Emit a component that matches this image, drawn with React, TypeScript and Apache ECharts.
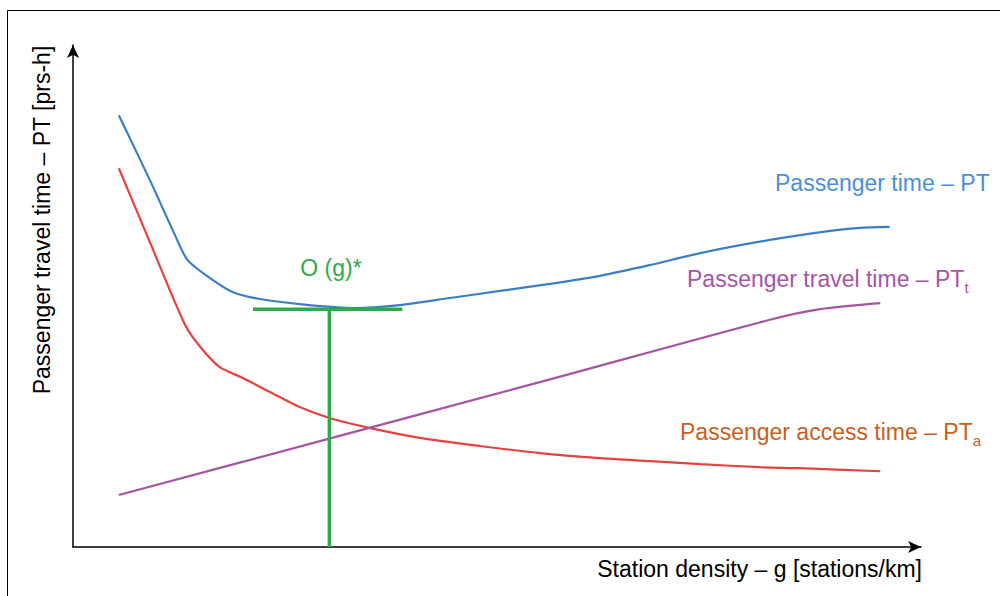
import React, { useEffect, useRef } from "react";
import * as echarts from "echarts";

// Data (x: station density, y: passenger time), arbitrary 0-100 units
const totalTime: [number, number][] = [
  [5.4, 85.5], [9.1, 72.5], [12.0, 61.8], [13.5, 56.8], [16.1, 53.3], [18.8, 50.5],
  [22.0, 49.1], [26.7, 48.1], [33.2, 47.3], [38.5, 47.9], [44.4, 49.3], [50.3, 50.7],
  [56.2, 52.1], [62.1, 53.7], [67.9, 55.8], [73.9, 58.2], [82.1, 60.8], [89.2, 62.6],
  [92.7, 63.2], [96.2, 63.4],
];
const accessTime: [number, number][] = [
  [5.4, 75.0], [9.1, 60.2], [13.2, 44.0], [15.0, 39.6], [17.3, 35.6], [19.7, 33.7],
  [23.2, 30.7], [26.7, 27.7], [30.3, 25.5], [34.9, 23.6], [40.9, 21.6],
  [47.9, 20.0], [55.0, 18.6], [62.1, 17.6], [68.0, 17.0], [73.9, 16.4], [80.9, 15.8],
  [85.6, 15.6], [95.1, 15.0],
];
const travelTime: [number, number][] = [
  [5.4, 10.3], [30.3, 21.5], [56.2, 33.2], [82.1, 45.0], [88.0, 47.1], [95.1, 48.3],
];
const optimumH: [number, number][] = [[21.2, 47.1], [38.8, 47.1]];
const optimumV: [number, number][] = [[30.2, 0], [30.2, 47.1]];

const FONT = "'Liberation Sans', Arial, sans-serif";

export default function App() {
  const ref = useRef<HTMLDivElement>(null);
  useEffect(() => {
    if (!ref.current) return;
    const chart = echarts.init(ref.current, null, { renderer: "svg" });
    const axisCommon = {
      type: "value" as const,
      min: 0,
      splitLine: { show: false },
      axisTick: { show: false },
      axisLabel: { show: false },
      axisLine: {
        show: true,
        onZero: false,
        symbol: ["none", "arrow"],
        symbolSize: [9, 13],
        lineStyle: { color: "#000", width: 1.5 },
      },
    };
    chart.setOption({
      animation: false,
      backgroundColor: "#fff",
      grid: { left: 73, top: 45, right: 79, bottom: 49, containLabel: false },
      xAxis: { ...axisCommon, max: 99.9 },
      yAxis: { ...axisCommon, max: 99.4 },
      series: [
        {
          type: "line", data: totalTime, smooth: 0.25, showSymbol: false,
          lineStyle: { color: "#3A7EC6", width: 2.2 },
        },
        {
          type: "line", data: accessTime, smooth: 0.25, showSymbol: false,
          lineStyle: { color: "#E8423F", width: 2.2 },
        },
        {
          type: "line", data: travelTime, smooth: 0.3, showSymbol: false,
          lineStyle: { color: "#A655A5", width: 2.2 },
        },
        {
          type: "line", data: optimumH, showSymbol: false,
          lineStyle: { color: "#2EAA4C", width: 3.5 },
        },
        {
          type: "line", data: optimumV, showSymbol: false,
          lineStyle: { color: "#2EAA4C", width: 3.5 },
        },
      ],
      graphic: [
        {
          type: "rect", shape: { x: 7.5, y: 10.5, width: 1010, height: 620 },
          style: { fill: "none", stroke: "#000", lineWidth: 1 }, silent: true,
        },
        {
          type: "text", x: 42, y: 220, rotation: Math.PI / 2,
          style: {
            text: "Passenger travel time – PT [prs-h]", fill: "#000",
            font: `23px ${FONT}`, align: "center", verticalAlign: "middle",
          },
        },
        {
          type: "text", x: 922, y: 569,
          style: {
            text: "Station density – g [stations/km]", fill: "#000",
            font: `23px ${FONT}`, align: "right", verticalAlign: "middle",
          },
        },
        {
          type: "text", x: 331, y: 268,
          style: {
            text: "O (g)*", fill: "#2EAA4C",
            font: `23px ${FONT}`, align: "center", verticalAlign: "middle",
          },
        },
        {
          type: "text", x: 775, y: 183,
          style: {
            text: "Passenger time – PT", fill: "#4A8FD8",
            font: `23px ${FONT}`, align: "left", verticalAlign: "middle",
          },
        },
        {
          type: "text", x: 687, y: 279,
          style: {
            text: "{m|Passenger travel time – PT}{s|t}",
            align: "left", verticalAlign: "middle",
            rich: {
              m: { fill: "#A655A5", fontSize: 23, fontFamily: FONT },
              s: { fill: "#A655A5", fontSize: 15, fontFamily: FONT, padding: [16, 0, 0, 0] },
            },
          },
        },
        {
          type: "text", x: 680, y: 432,
          style: {
            text: "{m|Passenger access time – PT}{s|a}",
            align: "left", verticalAlign: "middle",
            rich: {
              m: { fill: "#C85F1E", fontSize: 23, fontFamily: FONT },
              s: { fill: "#C85F1E", fontSize: 15, fontFamily: FONT, padding: [16, 0, 0, 0] },
            },
          },
        },
      ],
    });
    return () => chart.dispose();
  }, []);
  return (
    <div
      ref={ref}
      style={{ position: "fixed", left: 0, top: 0, width: 1000, height: 596 }}
    />
  );
}
